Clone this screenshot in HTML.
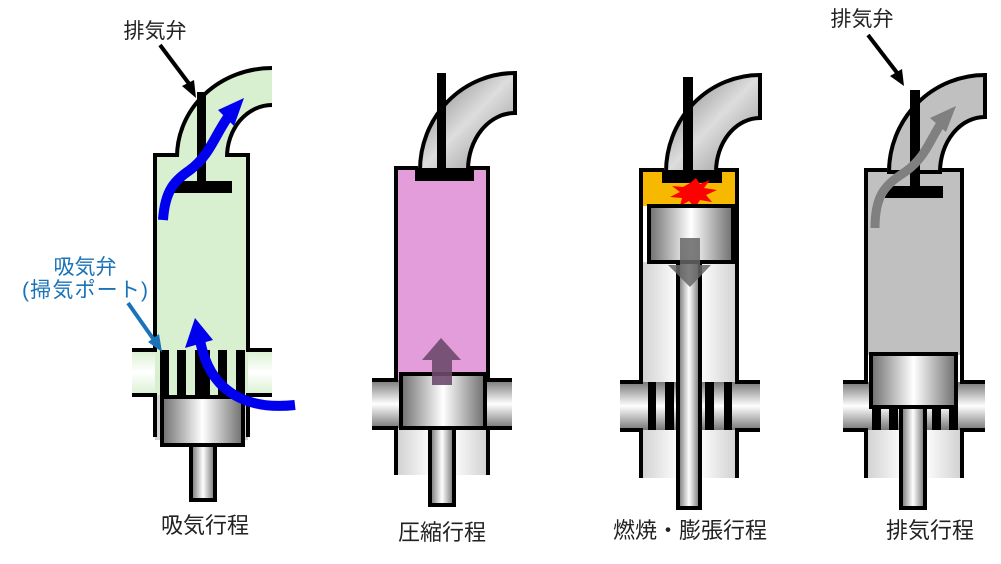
<!DOCTYPE html>
<html><head><meta charset="utf-8"><style>
html,body{margin:0;padding:0;background:#fff;}
svg{display:block;}
text{font-family:"Liberation Sans","Noto Sans CJK JP",sans-serif;}
</style></head><body>
<svg width="1001" height="564" viewBox="0 0 1001 564" xmlns="http://www.w3.org/2000/svg">
<defs>
<linearGradient id="hg" x1="0" y1="0" x2="1" y2="0"><stop offset="0" stop-color="#6e6e6e"/><stop offset="0.5" stop-color="#fff"/><stop offset="1" stop-color="#6e6e6e"/></linearGradient>
<linearGradient id="lw" x1="0" y1="0" x2="1" y2="0"><stop offset="0" stop-color="#d0d0d0"/><stop offset="0.4" stop-color="#fff"/><stop offset="0.6" stop-color="#fff"/><stop offset="1" stop-color="#d0d0d0"/></linearGradient>
<linearGradient id="vg" x1="0" y1="0" x2="0" y2="1"><stop offset="0" stop-color="#777"/><stop offset="0.5" stop-color="#fff"/><stop offset="1" stop-color="#777"/></linearGradient>
<linearGradient id="vgg" x1="0" y1="0" x2="0" y2="1"><stop offset="0" stop-color="#d9f0d0"/><stop offset="0.5" stop-color="#fff"/><stop offset="1" stop-color="#d9f0d0"/></linearGradient>
<linearGradient id="pg" x1="0" y1="0" x2="1" y2="1"><stop offset="0" stop-color="#777"/><stop offset="0.5" stop-color="#ddd"/><stop offset="1" stop-color="#888"/></linearGradient>
</defs>
<g stroke="#000" stroke-width="4">
<!-- Cylinder 1 -->
<rect x="155" y="395" width="93" height="45" fill="url(#lw)" stroke="none"/>
<rect x="132" y="350" width="140" height="45" fill="url(#vgg)" stroke="none"/>
<rect x="155" y="155" width="93" height="240" fill="#d9f0d0" stroke="none"/>
<path d="M177,157 A95,89 0 0 1 272,68 V105 A45,52 0 0 0 227,157 Z" fill="#d9f0d0" stroke="none"/>
<path d="M177,157 A95,89 0 0 1 272,68 M272,105 A45,52 0 0 0 227,157" fill="none"/>
<path d="M177,155 H155 V350 H132 M132,395 H155 V437 M227,155 H248 V350 H272 M272,395 H248 V437" fill="none"/>
<g fill="#000" stroke="none">
<rect x="160" y="350" width="9" height="45"/><rect x="177" y="350" width="9" height="45"/><rect x="195" y="350" width="15" height="45"/><rect x="218" y="350" width="9" height="45"/><rect x="236" y="350" width="9" height="45"/>
<rect x="197" y="92" width="9" height="100"/><rect x="173" y="181" width="59" height="12"/>
</g>
<rect x="162" y="397" width="81" height="48" fill="url(#hg)"/>
<rect x="191" y="445" width="24" height="55" fill="url(#hg)"/>
<path d="M163,220 C165,190 175,180 190,170 C210,155 215,135 228,117" fill="none" stroke="#0000ee" stroke-width="10"/>
<polygon points="244,98 218,110 234,126" fill="#0000ee" stroke="none"/>
<path d="M295,405 C250,410 210,395 200,340" fill="none" stroke="#0000ee" stroke-width="10"/>
<polygon points="195,318 185,348 213,340" fill="#0000ee" stroke="none"/>
<line x1="160" y1="45" x2="190" y2="85" stroke-width="4"/>
<polygon points="196,98 182,86 194,80" fill="#000" stroke="none"/>
<line x1="128" y1="303" x2="154" y2="340" stroke="#1a73b8" stroke-width="4"/>
<polygon points="162,352 148,342 159,334" fill="#1a73b8" stroke="none"/>

<!-- Cylinder 2 -->
<rect x="396" y="428" width="92" height="47" fill="url(#lw)" stroke="none"/>
<rect x="372" y="380" width="140" height="48" fill="url(#vg)" stroke="none"/>
<rect x="396" y="168" width="92" height="212" fill="#e39ddb" stroke="none"/>
<path d="M420,170 A95,97 0 0 1 515,73 V113 A47,57 0 0 0 468,170 Z" fill="url(#pg)"/>
<path d="M418,168 H396 V380 H372 M372,428 H396 V475 M470,168 H488 V380 H512 M512,428 H488 V475" fill="none"/>
<g fill="#000" stroke="none"><rect x="437" y="73" width="9" height="100"/><rect x="415" y="168" width="59" height="13"/></g>
<rect x="401" y="374" width="84" height="54" fill="url(#hg)"/>
<rect x="430" y="428" width="24" height="77" fill="url(#hg)"/>
<g fill="#6e4a6e" opacity="0.9" stroke="none"><rect x="432" y="358" width="20" height="27"/><polygon points="422,360 441,338 461,360"/></g>

<!-- Cylinder 3 -->
<rect x="641" y="262" width="96" height="216" fill="url(#lw)" stroke="none"/>
<rect x="620" y="382" width="140" height="48" fill="url(#vg)" stroke="none"/>
<rect x="641" y="170" width="96" height="36" fill="#f7b800" stroke="none"/>
<path d="M666,172 A94,97 0 0 1 760,75 V118 A44,54 0 0 0 716,172 Z" fill="url(#pg)"/>
<path d="M664,170 H641 V382 H620 M620,430 H641 V478 M718,170 H737 V382 H760 M760,430 H737 V478" fill="none"/>
<g fill="#000" stroke="none">
<rect x="648" y="382" width="8" height="48"/><rect x="665" y="382" width="9" height="48"/><rect x="705" y="382" width="9" height="48"/><rect x="724" y="382" width="8" height="48"/>
<rect x="683" y="77" width="10" height="100"/><rect x="662" y="171" width="60" height="12"/></g>
<polygon points="690,183 696,178 700,184 710,180 704,188 717,190 706,195 712,202 700,200 695,208 689,201 680,206 682,198 670,197 680,192 672,186 683,187" fill="#f00" stroke="none"/>
<rect x="649" y="206" width="84" height="56" fill="url(#hg)"/>
<rect x="678" y="262" width="22" height="246" fill="url(#hg)"/>
<g fill="#666" opacity="0.85" stroke="none"><rect x="680" y="238" width="20" height="30"/><polygon points="668,265 711,265 690,287"/></g>

<!-- Cylinder 4 -->
<rect x="866" y="407" width="96" height="71" fill="url(#lw)" stroke="none"/>
<rect x="843" y="382" width="142" height="48" fill="url(#vg)" stroke="none"/>
<rect x="866" y="170" width="96" height="185" fill="#c0c0c0" stroke="none"/>
<path d="M889,172 A96,97 0 0 1 985,75 V117 A45,55 0 0 0 940,172 Z" fill="#c0c0c0"/>
<path d="M887,170 H866 V382 H843 M843,430 H866 V478 M942,170 H962 V382 H985 M985,430 H962 V478" fill="none"/>
<g fill="#000" stroke="none">
<rect x="872" y="405" width="9" height="25"/><rect x="889" y="405" width="9" height="25"/><rect x="932" y="405" width="9" height="25"/><rect x="949" y="405" width="9" height="25"/>
<rect x="910" y="90" width="10" height="100"/><rect x="885" y="186" width="58" height="12"/></g>
<path d="M875,228 C875,195 885,185 905,172 C925,158 930,140 940,125" fill="none" stroke="#808080" stroke-width="9"/>
<polygon points="956,106 930,118 946,132" fill="#808080" stroke="none"/>
<rect x="871" y="354" width="85" height="53" fill="url(#hg)"/>
<rect x="901" y="407" width="24" height="101" fill="url(#hg)"/>
<line x1="868" y1="35" x2="898" y2="74" stroke-width="4"/>
<polygon points="904,86 890,76 902,69" fill="#000" stroke="none"/>
</g>
<g font-size="21" fill="#222">
<text x="155" y="38" text-anchor="middle">排気弁</text>
<text x="862" y="26" text-anchor="middle">排気弁</text>
<text x="85" y="274" text-anchor="middle" fill="#1a73b8">吸気弁</text>
<text x="85" y="297" text-anchor="middle" fill="#1a73b8" textLength="126">(掃気ポート)</text>
<text x="205" y="533" text-anchor="middle" font-size="22">吸気行程</text>
<text x="442" y="540" text-anchor="middle" font-size="22">圧縮行程</text>
<text x="690" y="538" text-anchor="middle" font-size="22">燃焼・膨張行程</text>
<text x="930" y="538" text-anchor="middle" font-size="22">排気行程</text>
</g>
</svg>
</body></html>
